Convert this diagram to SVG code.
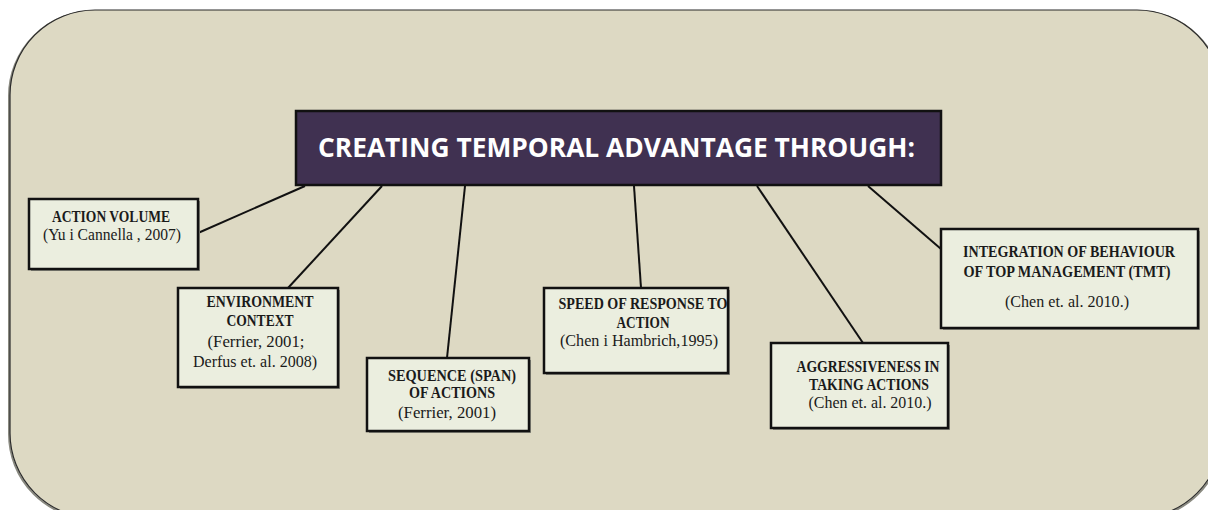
<svg xmlns="http://www.w3.org/2000/svg" width="1208" height="510" viewBox="0 0 1208 510">
<style>
.bg{fill:#DDD9C3;stroke:#2a2a2a;stroke-width:1.2}
.bgsh{fill:none;stroke:#8a8a80;stroke-width:2}
.title{fill:#403151;stroke:#111;stroke-width:2.5}
.tt{font-family:"Open Sans","Liberation Sans",sans-serif;font-weight:bold;font-size:26px;fill:#fff}
.box{fill:#EBEEDF;stroke:#111;stroke-width:2.5}
.sh{fill:#8c8c80}
.b{font-family:"Liberation Serif",serif;font-weight:bold;font-size:16px;fill:#1a1a1a}
.r{font-family:"Liberation Serif",serif;font-size:16px;fill:#1a1a1a}
.con line{stroke:#111;stroke-width:2}
</style>
<rect class="bgsh" x="9" y="11" width="1214" height="508" rx="85" ry="85"/>
<rect class="bg" x="10" y="10" width="1212" height="508" rx="85" ry="85"/>
<g id="connectors" class="con">
<line x1="305" y1="186" x2="198" y2="233"/>
<line x1="382" y1="186" x2="288" y2="288"/>
<line x1="465" y1="186" x2="447" y2="358"/>
<line x1="634" y1="186" x2="641" y2="288"/>
<line x1="757" y1="186" x2="863" y2="343"/>
<line x1="868" y1="186" x2="941" y2="249"/>
</g>
<g id="title">
<rect class="title" x="296" y="111" width="645" height="74"/>
<text class="tt" x="616.5" y="157" text-anchor="middle" textLength="597" lengthAdjust="spacingAndGlyphs">CREATING TEMPORAL ADVANTAGE THROUGH:</text>
</g>
<g id="action-volume">
<rect class="sh" x="31" y="201" width="169" height="70"/>
<rect class="box" x="29" y="199" width="169" height="70"/>
<text class="b" x="111" y="222" text-anchor="middle" textLength="118" lengthAdjust="spacingAndGlyphs">ACTION VOLUME</text>
<text class="r" x="112" y="240" text-anchor="middle" textLength="138" lengthAdjust="spacingAndGlyphs">(Yu i Cannella , 2007)</text>
</g>
<g id="environment-context">
<rect class="sh" x="180" y="290" width="160" height="99"/>
<rect class="box" x="178" y="288" width="160" height="99"/>
<text class="b" x="260" y="307" text-anchor="middle" textLength="107" lengthAdjust="spacingAndGlyphs">ENVIRONMENT</text>
<text class="b" x="260" y="326" text-anchor="middle" textLength="67" lengthAdjust="spacingAndGlyphs">CONTEXT</text>
<text class="r" x="256" y="347" text-anchor="middle" textLength="97" lengthAdjust="spacingAndGlyphs">(Ferrier, 2001;</text>
<text class="r" x="255" y="367" text-anchor="middle" textLength="124" lengthAdjust="spacingAndGlyphs">Derfus et. al. 2008)</text>
</g>
<g id="sequence">
<rect class="sh" x="369" y="360" width="162" height="73"/>
<rect class="box" x="367" y="358" width="162" height="73"/>
<text class="b" x="452" y="381" text-anchor="middle" textLength="128" lengthAdjust="spacingAndGlyphs">SEQUENCE (SPAN)</text>
<text class="b" x="452" y="398" text-anchor="middle" textLength="86" lengthAdjust="spacingAndGlyphs">OF ACTIONS</text>
<text class="r" x="447" y="418" text-anchor="middle" textLength="98" lengthAdjust="spacingAndGlyphs">(Ferrier, 2001)</text>
</g>
<g id="speed">
<rect class="sh" x="546" y="290" width="184" height="85"/>
<rect class="box" x="544" y="288" width="184" height="85"/>
<text class="b" x="643" y="309" text-anchor="middle" textLength="169" lengthAdjust="spacingAndGlyphs">SPEED OF RESPONSE TO</text>
<text class="b" x="643" y="328" text-anchor="middle" textLength="53" lengthAdjust="spacingAndGlyphs">ACTION</text>
<text class="r" x="639" y="346" text-anchor="middle" textLength="158" lengthAdjust="spacingAndGlyphs">(Chen i Hambrich,1995)</text>
</g>
<g id="aggressiveness">
<rect class="sh" x="773" y="345" width="177" height="85"/>
<rect class="box" x="771" y="343" width="177" height="85"/>
<text class="b" x="868" y="372" text-anchor="middle" textLength="143" lengthAdjust="spacingAndGlyphs">AGGRESSIVENESS IN</text>
<text class="b" x="869" y="390" text-anchor="middle" textLength="120" lengthAdjust="spacingAndGlyphs">TAKING ACTIONS</text>
<text class="r" x="870" y="408" text-anchor="middle" textLength="123" lengthAdjust="spacingAndGlyphs">(Chen et. al. 2010.)</text>
</g>
<g id="integration">
<rect class="sh" x="943" y="231" width="257" height="99"/>
<rect class="box" x="941" y="229" width="257" height="99"/>
<text class="b" x="1069" y="257" text-anchor="middle" textLength="212" lengthAdjust="spacingAndGlyphs">INTEGRATION OF BEHAVIOUR</text>
<text class="b" x="1067" y="277" text-anchor="middle" textLength="207" lengthAdjust="spacingAndGlyphs">OF TOP MANAGEMENT (TMT)</text>
<text class="r" x="1067" y="307" text-anchor="middle" textLength="124" lengthAdjust="spacingAndGlyphs">(Chen et. al. 2010.)</text>
</g>
</svg>
